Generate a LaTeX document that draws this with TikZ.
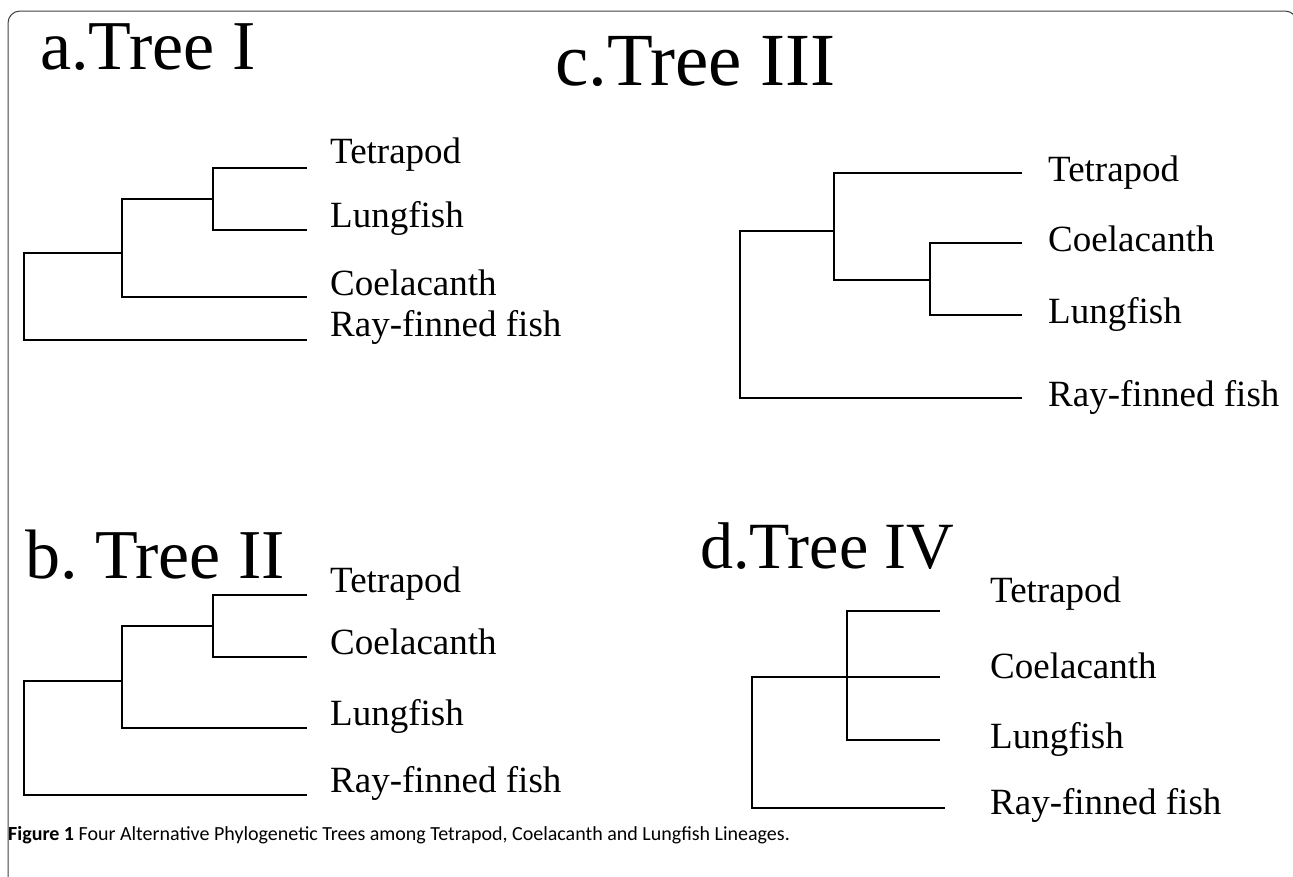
\documentclass[tikz,border=0pt]{standalone}
\usepackage{fontspec}
\setmainfont{Liberation Serif}
\newfontfamily\capfont{Carlito}
\tikzset{
  branch/.style={line width=1.2pt},
  taxon/.style={anchor=base west, inner sep=0pt, font=\fontsize{37}{44}\selectfont},
  treetitle/.style={anchor=base west, inner sep=0pt, font=\fontsize{70}{80}\selectfont},
}
\begin{document}
\begin{tikzpicture}[x=1pt, y=-1pt, line join=miter]
	\useasboundingbox (0,0) rectangle (1293,876);
	\draw[line width=1pt, black!75, rounded corners=12pt] (8,900) -- (8,11) -- (1297,11) -- (1297,300);
	% titles
	\node[treetitle] (ta) at (40,69) {a.Tree I};
	\node[treetitle, font=\fontsize{75}{80}\selectfont] (tc) at (555,85) {c.Tree III};
	\node[treetitle] (tb) at (25,578) {b.\ Tree II};
	\node[treetitle, font=\fontsize{66}{80}\selectfont] (td) at (700,568) {d.Tree IV};
	% tree a
	\coordinate (a-tet) at (307,168); \coordinate (a-lun) at (307,230);
	\coordinate (a-coe) at (307,297); \coordinate (a-ray) at (307,340);
	\coordinate (a-n1) at (213,199); \coordinate (a-n2) at (122,253);
	\coordinate (a-root) at (24,253);
	\draw[branch] (a-tet) -| (a-n1) |- (a-lun);
	\draw[branch] (a-n1) -| (a-n2) |- (a-coe);
	\draw[branch] (a-n2) -| (a-root) |- (a-ray);
	\node[taxon] (a-tet-l) at (330,163) {Tetrapod};
	\node[taxon] (a-lun-l) at (330,227) {Lungfish};
	\node[taxon] (a-coe-l) at (330,295) {Coelacanth};
	\node[taxon] (a-ray-l) at (330,336) {Ray-finned fish};
	% tree b
	\coordinate (b-tet) at (307,595); \coordinate (b-coe) at (307,657);
	\coordinate (b-lun) at (307,728); \coordinate (b-ray) at (307,795);
	\coordinate (b-n1) at (213,626); \coordinate (b-n2) at (122,681);
	\coordinate (b-root) at (24,681);
	\draw[branch] (b-tet) -| (b-n1) |- (b-coe);
	\draw[branch] (b-n1) -| (b-n2) |- (b-lun);
	\draw[branch] (b-n2) -| (b-root) |- (b-ray);
	\node[taxon] (b-tet-l) at (330,592) {Tetrapod};
	\node[taxon] (b-coe-l) at (330,654) {Coelacanth};
	\node[taxon] (b-lun-l) at (330,725) {Lungfish};
	\node[taxon] (b-ray-l) at (330,792) {Ray-finned fish};
	% tree c
	\coordinate (c-tet) at (1022,173); \coordinate (c-coe) at (1022,243);
	\coordinate (c-lun) at (1022,315); \coordinate (c-ray) at (1022,398);
	\coordinate (c-n1) at (930,280); \coordinate (c-n2) at (834,231);
	\coordinate (c-root) at (740,231);
	\draw[branch] (c-coe) -| (c-n1) |- (c-lun);
	\draw[branch] (c-tet) -| (c-n2) |- (c-n1);
	\draw[branch] (c-n2) -| (c-root) |- (c-ray);
	\node[taxon] (c-tet-l) at (1048,181) {Tetrapod};
	\node[taxon] (c-coe-l) at (1048,251) {Coelacanth};
	\node[taxon] (c-lun-l) at (1048,323) {Lungfish};
	\node[taxon] (c-ray-l) at (1048,406) {Ray-finned fish};
	% tree d
	\coordinate (d-tet) at (940,611); \coordinate (d-coe) at (940,677);
	\coordinate (d-lun) at (940,740); \coordinate (d-ray) at (945,808);
	\coordinate (d-n1) at (847,677); \coordinate (d-root) at (752,677);
	\draw[branch] (d-tet) -| (d-n1) |- (d-lun);
	\draw[branch] (d-coe) -- (d-n1) -- (d-root) |- (d-ray);
	\node[taxon] (d-tet-l) at (990,602) {Tetrapod};
	\node[taxon] (d-coe-l) at (990,678) {Coelacanth};
	\node[taxon] (d-lun-l) at (990,748) {Lungfish};
	\node[taxon] (d-ray-l) at (990,814) {Ray-finned fish};
	% caption
	\node[anchor=base west, inner sep=0pt, font=\capfont\fontsize{20}{24}\selectfont] (cap) at (8,840)
	{\textbf{Figure 1} Four Alternative Phylogenetic Trees among Tetrapod, Coelacanth and Lungfish Lineages.};
\end{tikzpicture}
\end{document}
